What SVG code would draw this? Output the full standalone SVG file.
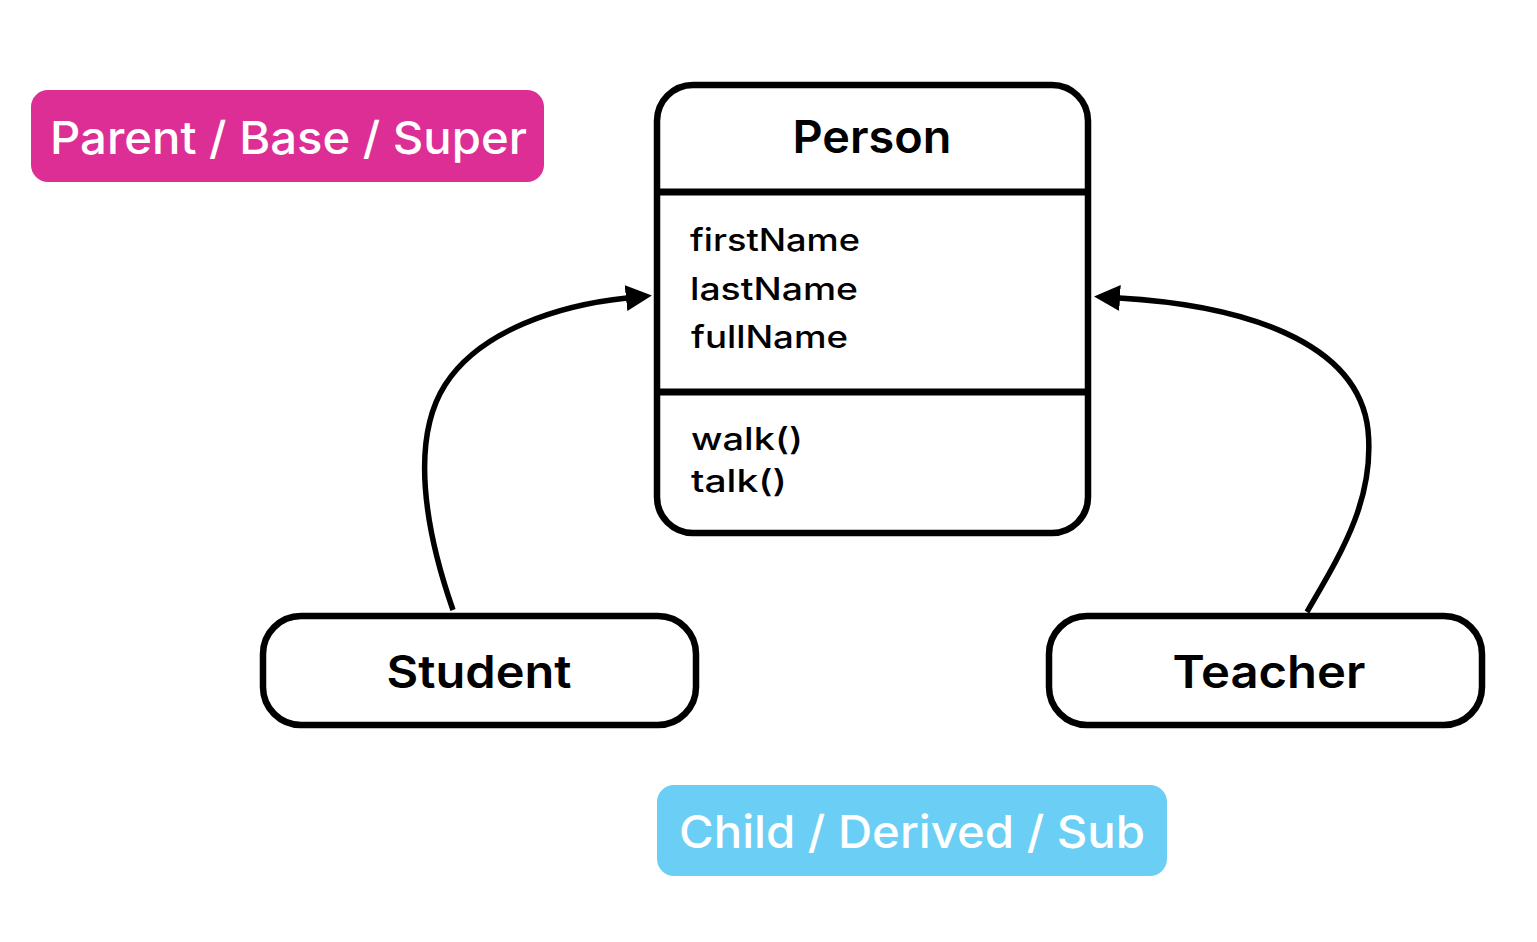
<svg xmlns="http://www.w3.org/2000/svg" width="1537" height="942" viewBox="0 0 1537 942">
<style>
.box{fill:#ffffff;stroke:#000000;stroke-width:6.5}
.div{stroke:#000000;stroke-width:7}
.title{font-family:"Inter","Noto Sans","Liberation Sans",sans-serif;font-weight:600;font-size:45px;fill:#000000}
.attr{font-family:"Inter","Noto Sans","Liberation Sans",sans-serif;font-weight:500;font-size:31px;fill:#000000}
.tag{font-family:"Inter","Noto Sans","Liberation Sans",sans-serif;font-weight:500;font-size:45px;fill:#ffffff}
.conn{fill:none;stroke:#000000;stroke-width:5.5}
</style>
<defs>
<marker id="arr" markerUnits="userSpaceOnUse" markerWidth="26" markerHeight="28" viewBox="0 0 26 28" refX="1" refY="14" orient="auto">
<path d="M0,1 L26,14 L0,27 Z" fill="#000000"/>
</marker>
</defs>
<rect width="1537" height="942" fill="#ffffff"/>
<g id="connectors">
<path class="conn" d="M453,610 C425,530 410,440 445,385 C480,330 560,305 627,298" marker-end="url(#arr)"/>
<path class="conn" d="M1307,612 C1340,555 1375,500 1368,430 C1358,340 1240,305 1119,298" marker-end="url(#arr)"/>
</g>
<g id="parent-label">
<rect x="31" y="90" width="513" height="92" rx="17" fill="#DD2E95"/>
<text class="tag" x="50" y="154" textLength="477" lengthAdjust="spacingAndGlyphs">Parent / Base / Super</text>
</g>
<g id="person">
<rect class="box" x="657" y="85" width="431" height="448" rx="36"/>
<line class="div" x1="657" y1="192" x2="1088" y2="192"/>
<line class="div" x1="657" y1="392" x2="1088" y2="392"/>
<text class="title" x="872" y="153" text-anchor="middle" textLength="159" lengthAdjust="spacingAndGlyphs">Person</text>
<text class="attr" x="690" y="251" textLength="170" lengthAdjust="spacingAndGlyphs">firstName</text>
<text class="attr" x="690" y="300" textLength="168" lengthAdjust="spacingAndGlyphs">lastName</text>
<text class="attr" x="691" y="348" textLength="157" lengthAdjust="spacingAndGlyphs">fullName</text>
<text class="attr" x="691" y="450" textLength="112" lengthAdjust="spacingAndGlyphs">walk()</text>
<text class="attr" x="691" y="492" textLength="96" lengthAdjust="spacingAndGlyphs">talk()</text>
</g>
<g id="student">
<rect class="box" x="263" y="616" width="433" height="109" rx="38"/>
<text class="title" x="479" y="688" text-anchor="middle" textLength="185" lengthAdjust="spacingAndGlyphs">Student</text>
</g>
<g id="teacher">
<rect class="box" x="1049" y="616" width="433" height="109" rx="38"/>
<text class="title" x="1269" y="688" text-anchor="middle" textLength="193" lengthAdjust="spacingAndGlyphs">Teacher</text>
</g>
<g id="child-label">
<rect x="657" y="785" width="510" height="91" rx="17" fill="#6BCFF5"/>
<text class="tag" x="679" y="848" textLength="466" lengthAdjust="spacingAndGlyphs">Child / Derived / Sub</text>
</g>
</svg>
